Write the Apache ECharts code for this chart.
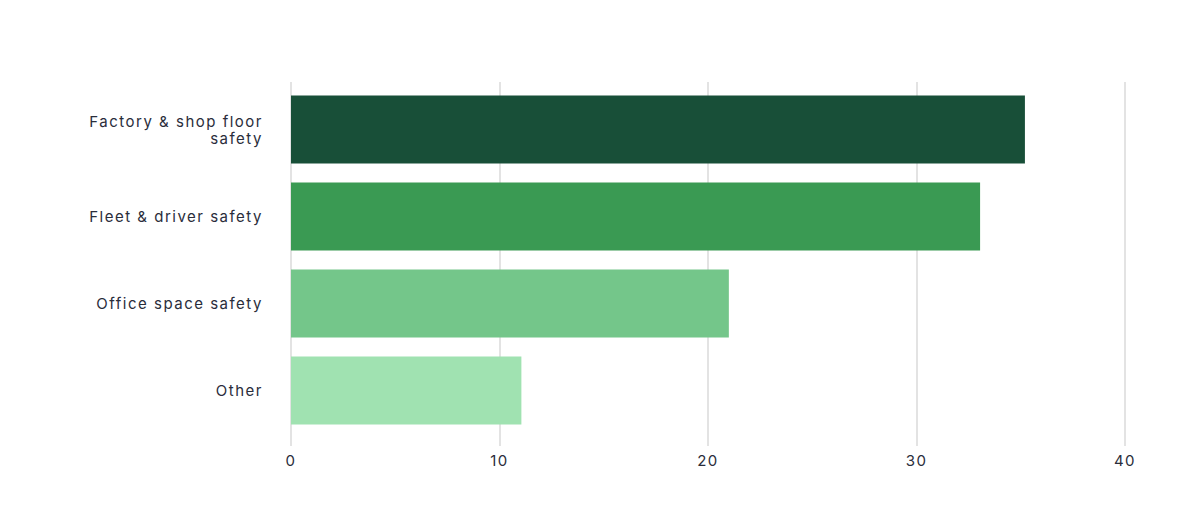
<!DOCTYPE html>
<html>
<head>
<meta charset="utf-8">
<script src="https://cdn.jsdelivr.net/npm/echarts@6/dist/echarts.min.js"></script>
<style>
  html, body { margin: 0; padding: 0; background: #fff; }
  #chart { width: 1200px; height: 524px; }
  /* the original type is set loose */
  #chart svg text { letter-spacing: 1.5px; }
</style>
</head>
<body>
<div id="chart"></div>
<script>
// categories, top to bottom
var categories = ['Factory & shop floor\nsafety', 'Fleet & driver safety', 'Office space safety', 'Other'];
var values = [35.2, 33.05, 21.0, 11.05];
var barColors = ['#184f38', '#3a9a53', '#74c68a', '#a0e2b1'];
var xTicks = [0, 10, 20, 30, 40];

var textColor = '#2a2d3b';
var font = 'Inter, "Noto Sans", sans-serif';

var myChart = echarts.init(document.getElementById('chart'), null, { renderer: 'svg' });

var option = {
    animation: false,
    grid: [
        // bars
        { left: 291, right: 75, top: 86, height: 348 },
        // split lines + tick labels (taller than the bar band)
        { left: 291, right: 75, top: 82, height: 364 }
    ],
    xAxis: [
        {
            gridIndex: 0, type: 'value', min: 0, max: 40, interval: 10,
            axisLine: { show: false }, axisTick: { show: false },
            axisLabel: { show: false }, splitLine: { show: false }
        },
        {
            gridIndex: 1, type: 'value', min: 0, max: 40, interval: 10,
            axisLine: { show: false }, axisTick: { show: false },
            axisLabel: {
                color: textColor, fontFamily: font, fontSize: 15, margin: 7,
                formatter: function (v) { return xTicks.indexOf(v) >= 0 ? String(v) : ''; }
            },
            splitLine: { lineStyle: { color: '#e3e3e3', width: 2 } }
        }
    ],
    yAxis: [
        {
            gridIndex: 0, type: 'category', inverse: true,
            data: categories.map(function (c) {
                // two-line label sits a little low in the original
                return c.indexOf('\n') >= 0 ? { value: c, textStyle: { padding: [6, 0, 0, 0] } } : c;
            }),
            axisLine: { show: false }, axisTick: { show: false },
            axisLabel: {
                color: textColor, fontFamily: font, fontSize: 15, margin: 28,
                align: 'right', lineHeight: 17
            }
        },
        {
            gridIndex: 1, type: 'category', data: [],
            show: false
        }
    ],
    series: [
        {
            type: 'bar',
            xAxisIndex: 0, yAxisIndex: 0,
            barCategoryGap: '22%',
            data: values.map(function (v, i) {
                return { value: v, itemStyle: { color: barColors[i] } };
            })
        }
    ]
};

myChart.setOption(option);
</script>
</body>
</html>
